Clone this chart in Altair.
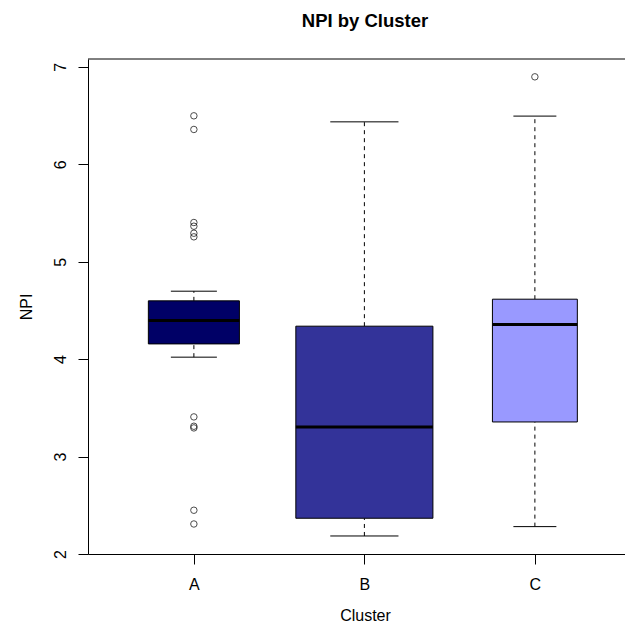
import altair as alt
import pandas as pd

# ---- data ----
clusters = ["A", "B", "C"]
positions = [1, 2, 3]
whisker_lo = [4.02, 2.185, 2.281]
q1 = [4.156, 2.367, 3.355]
median = [4.396, 3.304, 4.355]
q3 = [4.598, 4.338, 4.615]
whisker_hi = [4.697, 6.435, 6.494]

outlier_cluster = ["A", "A", "A", "A", "A", "A", "A", "A", "A", "A", "A", "C"]
outlier_pos = [1, 1, 1, 1, 1, 1, 1, 1, 1, 1, 1, 3]
outlier_val = [6.497, 6.357, 5.402, 5.364, 5.292, 5.255, 3.407, 3.311, 3.294, 2.449, 2.308, 6.897]

# ---- style ----
fill_colors = ["#000066", "#333399", "#9999FF"]
box_half = [0.267, 0.402, 0.249]   # half box widths (varwidth), in x units
cap_half = [0.135, 0.200, 0.126]
FONT = "Liberation Sans"
W, H = 537, 495

boxes = pd.DataFrame({
    "cluster": clusters, "pos": positions, "wlo": whisker_lo, "q1": q1,
    "med": median, "q3": q3, "whi": whisker_hi, "half": box_half, "cap": cap_half,
})
outs = pd.DataFrame({"cluster": outlier_cluster, "pos": outlier_pos, "val": outlier_val})

xscale = alt.Scale(domain=[0.379, 0.379 + W / 170.5], nice=False, zero=False)
yscale = alt.Scale(domain=[2.0, 7.08], nice=False, zero=False)

xaxis = alt.Axis(values=[1, 2, 3], labelExpr="datum.value == 1 ? 'A' : datum.value == 2 ? 'B' : 'C'",
                 title="Cluster", grid=False, tickSize=10, labelPadding=12,
                 titleX=277, titleY=66, titleBaseline="alphabetic",
                 titleFontWeight="normal")
yaxis = alt.Axis(values=[2, 3, 4, 5, 6, 7], format="d", title="NPI", grid=False, tickSize=10,
                 labelAngle=270, labelAlign="center", labelBaseline="bottom", labelPadding=10,
                 titleX=-57, titleY=H / 2, titleAngle=270, titleBaseline="alphabetic",
                 titleFontWeight="normal")

base = alt.Chart(boxes).transform_calculate(
    xlo="datum.pos - datum.half", xhi="datum.pos + datum.half",
    clo="datum.pos - datum.cap", chi="datum.pos + datum.cap",
)

whisk_up = base.mark_rule(color="black", strokeWidth=1, strokeDash=[4, 4]).encode(
    x=alt.X("pos:Q", scale=xscale, axis=xaxis),
    y=alt.Y("q3:Q", scale=yscale, axis=yaxis),
    y2="whi:Q",
)
whisk_dn = base.mark_rule(color="black", strokeWidth=1, strokeDash=[4, 4]).encode(
    x=alt.X("pos:Q", scale=xscale),
    y=alt.Y("wlo:Q", scale=yscale),
    y2="q1:Q",
)
caps_hi = base.mark_rule(color="black", strokeWidth=1).encode(
    x=alt.X("clo:Q", scale=xscale), x2="chi:Q", y=alt.Y("whi:Q", scale=yscale),
)
caps_lo = base.mark_rule(color="black", strokeWidth=1).encode(
    x=alt.X("clo:Q", scale=xscale), x2="chi:Q", y=alt.Y("wlo:Q", scale=yscale),
)
box = base.mark_rect(stroke="black", strokeWidth=1).encode(
    x=alt.X("xlo:Q", scale=xscale), x2="xhi:Q",
    y=alt.Y("q1:Q", scale=yscale), y2="q3:Q",
    color=alt.Color("cluster:N", scale=alt.Scale(domain=clusters, range=fill_colors), legend=None),
)
med = base.mark_rule(color="black", strokeWidth=3).encode(
    x=alt.X("xlo:Q", scale=xscale), x2="xhi:Q", y=alt.Y("med:Q", scale=yscale),
)
pts = alt.Chart(outs).mark_point(shape="circle", filled=False, color="black", size=42, strokeWidth=1).encode(
    x=alt.X("pos:Q", scale=xscale),
    y=alt.Y("val:Q", scale=yscale),
)
# top edge of the plot frame (the right edge lies outside the picture)
topframe = alt.Chart(boxes.head(1)).mark_rule(color="black", strokeWidth=1).encode(
    x=alt.value(0), x2=alt.value(W), y=alt.value(0),
)

chart = alt.layer(whisk_up, whisk_dn, box, med, caps_hi, caps_lo, pts, topframe).properties(
    width=W, height=H,
    title=alt.TitleParams("NPI by Cluster", fontSize=18.5, fontWeight="bold", font=FONT,
                          anchor="middle", dx=8.5, offset=13, baseline="alphabetic", color="black"),
    autosize=alt.AutoSizeParams(type="none"),
    padding={"left": 80, "top": 51, "right": 0, "bottom": 71},
).configure_view(stroke=None).configure_axis(
    labelFont=FONT, titleFont=FONT, labelFontSize=16, titleFontSize=16,
    labelColor="black", titleColor="black", domainColor="black", tickColor="black",
    domainWidth=1, tickWidth=1,
)

chart.save("out.html", embed_options={"renderer": "svg", "actions": False})
